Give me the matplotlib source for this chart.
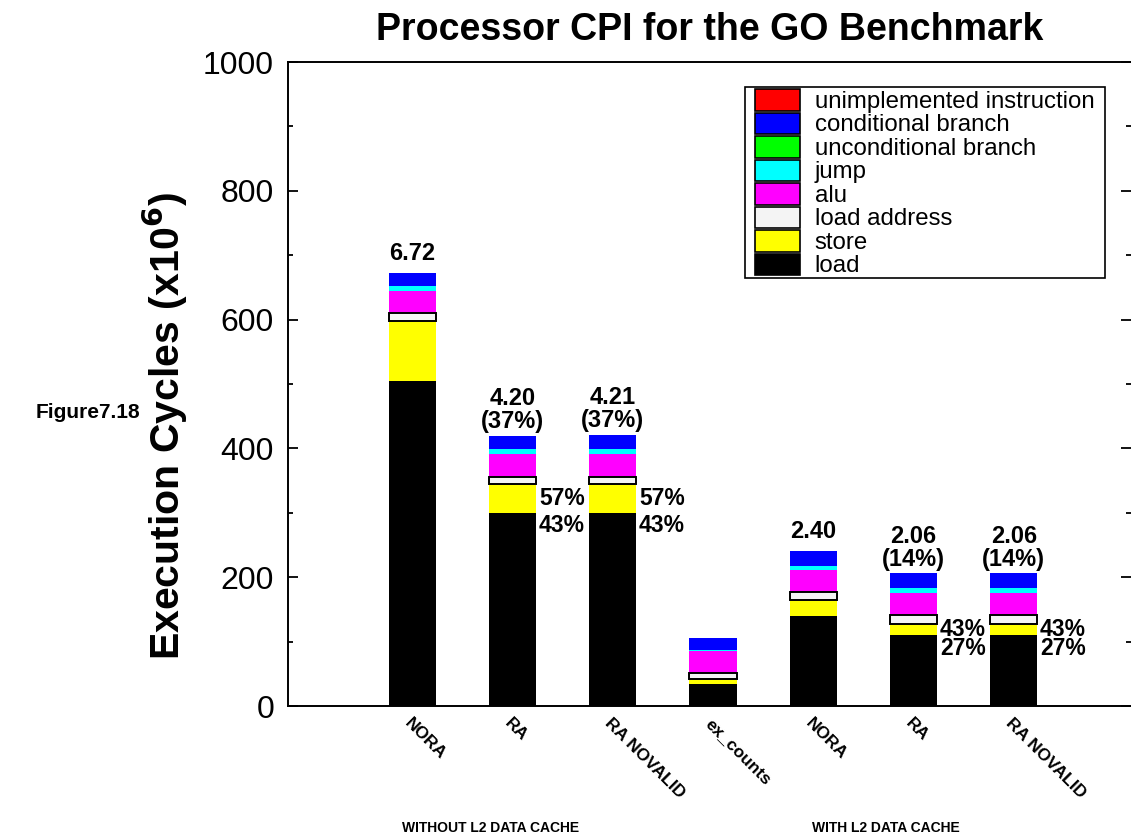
import matplotlib
matplotlib.use('Agg')
import matplotlib.pyplot as plt
from matplotlib.patches import Patch, Rectangle
from matplotlib.ticker import MultipleLocator
import matplotlib.transforms as mtransforms
import numpy as np

plt.rcParams['font.family'] = ['Liberation Sans', 'DejaVu Sans']

# ---------------- data ----------------
categories = ['NORA', 'RA', 'RA NOVALID', 'ex_counts', 'NORA', 'RA', 'RA NOVALID']
load = [505, 300, 300, 34, 140, 110, 110]
store = [93, 44, 44, 8, 25, 18, 18]
load_address = [12, 12, 12, 9, 12, 13, 13]
alu = [34, 36, 36, 35, 34, 35, 35]
jump = [8, 7, 7, 1, 7, 7, 7]
unconditional_branch = [0, 0, 0, 0, 0, 0, 0]
conditional_branch = [20, 21, 22, 18, 22, 23, 23]
unimplemented_instruction = [0, 0, 0, 0, 0, 0, 0]

cpi_labels = ['6.72', '4.20\n(37%)', '4.21\n(37%)', '', '2.40', '2.06\n(14%)', '2.06\n(14%)']
store_pct_labels = ['', '57%', '57%', '', '', '43%', '43%']
load_pct_labels = ['', '43%', '43%', '', '', '27%', '27%']
group_labels = ['WITHOUT L2 DATA CACHE', 'WITH L2 DATA CACHE']
group_centers = [0.78, 4.72]

series_names = ['load', 'store', 'load address', 'alu', 'jump',
                'unconditional branch', 'conditional branch', 'unimplemented instruction']
series_values = [load, store, load_address, alu, jump,
                 unconditional_branch, conditional_branch, unimplemented_instruction]
series_colors = ['#000000', '#ffff00', '#f4f4f4', '#ff00ff', '#00ffff',
                 '#00ff00', '#0000ff', '#ff0000']

# ---------------- figure ----------------
fig = plt.figure(figsize=(11.31, 8.40), dpi=100)
ax = fig.add_axes([288 / 1131, 1 - 706 / 840, 1 - 288 / 1131, (706 - 62) / 840])

x = np.arange(len(categories))
width = 0.47
bottom = np.zeros(len(categories))
for name, vals, col in zip(series_names, series_values, series_colors):
    vals = np.array(vals, dtype=float)
    if name == 'load address':
        ax.bar(x, vals, width, bottom=bottom, color=col, edgecolor='black',
               linewidth=1.4, zorder=3)
    else:
        ax.bar(x, vals, width, bottom=bottom, color=col, edgecolor='none',
               linewidth=0, zorder=2)
    bottom += vals
totals = bottom.copy()

# CPI labels above bars
for i, lab in enumerate(cpi_labels):
    if lab:
        off = 2 if '\n' in lab else 6
        ax.annotate(lab, xy=(x[i], totals[i]), xytext=(0, off), textcoords='offset points',
                    ha='center', va='bottom', fontsize=17, fontweight='bold',
                    linespacing=1.0)

# percentage labels at the side of bars
for i in range(len(categories)):
    if store_pct_labels[i]:
        ax.annotate(store_pct_labels[i], xy=(x[i] + width / 2, load[i] + store[i] / 2),
                    xytext=(2, 0), textcoords='offset points', ha='left', va='center',
                    fontsize=16.5, fontweight='bold')
    if load_pct_labels[i]:
        ax.annotate(load_pct_labels[i], xy=(x[i] + width / 2, load[i]),
                    xytext=(2, -9.5), textcoords='offset points', ha='left', va='center',
                    fontsize=16.5, fontweight='bold')

# axes styling
ax.set_ylim(0, 1000)
ax.set_xlim(-1.24, 7.17)
ax.yaxis.set_major_locator(MultipleLocator(200))
ax.yaxis.set_minor_locator(MultipleLocator(100))
ax.tick_params(axis='y', which='major', direction='in', length=7, width=1.3,
               labelsize=23, pad=10, right=True)
ax.tick_params(axis='y', which='minor', direction='in', length=3.5, width=1.3, right=True)
ax.set_xticks(x)
ax.set_xticklabels(categories, rotation=-45, ha='left', va='top', rotation_mode='anchor',
                   fontsize=12.5, fontweight='bold')
ax.tick_params(axis='x', length=0, pad=7)
for s in ['left', 'bottom', 'top']:
    ax.spines[s].set_linewidth(1.4)
ax.spines['right'].set_visible(False)

# legend (frame drawn as a separate box)
def ax_frac(px, py):
    return ((px - 288) / (1131 - 288), (706 - py) / (706 - 62))

fx0, fy0 = ax_frac(745, 278)
fx1, fy1 = ax_frac(1105, 87)
ax.add_patch(Rectangle((fx0, fy0), fx1 - fx0, fy1 - fy0, transform=ax.transAxes,
                       facecolor='white', edgecolor='black', linewidth=1.2, zorder=4.5))
order = [7, 6, 5, 4, 3, 2, 1, 0]
handles = [Patch(facecolor=series_colors[k], edgecolor='black', linewidth=1.2) for k in order]
names = [series_names[k] for k in order]
lx, ly = ax_frac(755, 89)
leg = ax.legend(handles, names, loc='upper left', bbox_to_anchor=(lx, ly),
                fontsize=17.3, frameon=False, labelspacing=-0.02, handlelength=1.88,
                handleheight=1.0, handletextpad=0.6, borderpad=0.0, borderaxespad=0)
leg.set_zorder(5)

# group labels
trans = mtransforms.blended_transform_factory(ax.transData, ax.transAxes)
for gx, gl in zip(group_centers, group_labels):
    ax.text(gx, -0.189, gl, transform=trans, ha='center', va='center',
            fontsize=10, fontweight='bold')

# titles
fig.text(710 / 1131, 1 - 30 / 840, 'Processor CPI for the GO Benchmark', ha='center',
         va='center', fontsize=27, fontweight='bold')
fig.text(165 / 1131, 1 - 426 / 840, r'Execution Cycles (x10$^{\mathbf{6}}$)', rotation=90,
         ha='center', va='center', fontsize=29.5, fontweight='bold')
fig.text(88 / 1131, 1 - 412 / 840, 'Figure7.18', ha='center', va='center',
         fontsize=15, fontweight='bold')

fig.savefig('out.png', dpi=100)
